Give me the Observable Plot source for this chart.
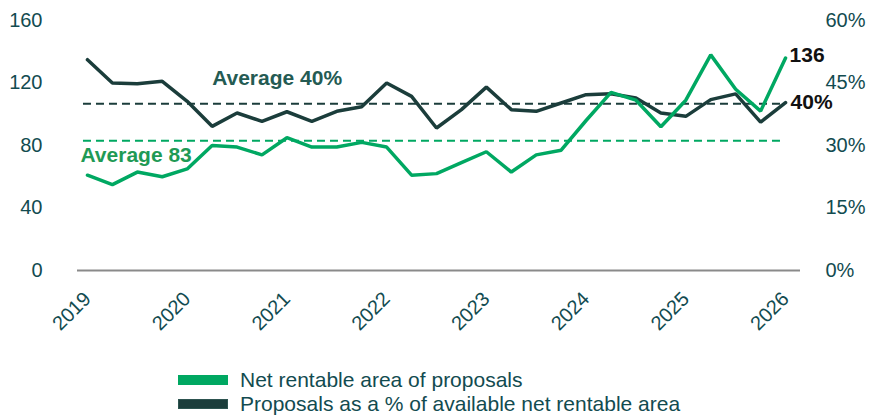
<!DOCTYPE html>
<html>
<head>
<meta charset="utf-8">
<script src="https://cdn.jsdelivr.net/npm/d3@7"></script>
<script src="https://cdn.jsdelivr.net/npm/@observablehq/plot@0.6"></script>
<style>
  html, body { margin: 0; padding: 0; background: #fff; }
  body { width: 871px; height: 416px; overflow: hidden; font-family: "Liberation Sans", Arial, sans-serif; }
  #legend { margin-top: 6px; padding-left: 178px; color: #124b50; font-size: 21px; }
  .row { display: flex; align-items: center; height: 24px; }
  .sw { width: 50px; height: 10px; margin-right: 12px; box-sizing: border-box; }
</style>
</head>
<body>
<div id="chart"></div>
<div id="legend"></div>
<script>
// ---- data (quarterly, 2019 Q1 .. 2026 Q1) ----
const startYear = 2019;
const seriesNames = ["Net rentable area of proposals", "Proposals as a % of available net rentable area"];
const areaValues = [61, 55, 63, 60, 65, 80, 79, 74, 85, 79, 79, 82, 79, 61, 62, 69, 76, 63, 74, 77, 96, 114, 109, 92, 109, 138, 116, 102, 136];
const sharePct   = [50.6, 45.0, 44.8, 45.4, 40.6, 34.6, 37.8, 35.8, 38.1, 35.8, 38.2, 39.3, 45.0, 41.8, 34.2, 38.6, 44.0, 38.6, 38.2, 40.2, 42.2, 42.4, 41.4, 37.8, 37.0, 41.0, 42.4, 35.6, 40.3];
const avgArea = 83;
const avgShare = 40;
const yearTicks = [2019, 2020, 2021, 2022, 2023, 2024, 2025, 2026];
const leftTicks = [0, 40, 80, 120, 160];
const rightTickLabels = ["0%", "15%", "30%", "45%", "60%"];
const endLabels = ["136", "40%"];

// ---- derived tables ----
const leftMax = 160, rightMax = 60;
const toLeft = p => p * leftMax / rightMax;
const areaData = areaValues.map((v, i) => ({t: startYear + i / 4, v}));
const shareData = sharePct.map((p, i) => ({t: startYear + i / 4, v: toLeft(p)}));
const lastArea = areaData[areaData.length - 1];
const lastShare = shareData[shareData.length - 1];

const GREEN = "#00a862", DARK = "#1b3d3b", AXIS = "#124b50";

const chart = Plot.plot({
  width: 871,
  height: 362,
  marginLeft: 77,
  marginRight: 71,
  marginTop: 20,
  marginBottom: 92,
  style: {fontFamily: "'Liberation Sans', Arial, sans-serif", fontSize: "20px", color: AXIS, background: "#fff"},
  x: {domain: [2018.9, 2026.15]},
  y: {domain: [0, leftMax]},
  marks: [
    Plot.axisY({ticks: leftTicks, tickSize: 0, tickPadding: 35, label: null, fill: AXIS}),
    Plot.axisY({anchor: "right", ticks: leftTicks, tickSize: 0, tickPadding: 25, label: null, fill: AXIS,
      tickFormat: (d) => rightTickLabels[leftTicks.indexOf(d)]}),
    Plot.axisX({ticks: yearTicks, tickFormat: d => String(d), tickRotate: -45, tickSize: 0, tickPadding: 25, label: null, fill: AXIS}),
    Plot.ruleY([0], {stroke: "#8a8a8a", strokeWidth: 2}),
    Plot.ruleY([avgShare], {y: d => toLeft(d), x1: startYear - 0.04, x2: yearTicks[yearTicks.length - 1], stroke: DARK, strokeWidth: 2, strokeDasharray: "8,5"}),
    Plot.ruleY([avgArea], {x1: startYear - 0.04, x2: yearTicks[yearTicks.length - 1] - 0.03, stroke: GREEN, strokeWidth: 2, strokeDasharray: "8,5"}),
    Plot.line(shareData, {x: "t", y: "v", stroke: DARK, strokeWidth: 3.5, strokeLinejoin: "miter"}),
    Plot.line(areaData, {x: "t", y: "v", stroke: GREEN, strokeWidth: 3.5, strokeLinejoin: "miter"}),
    Plot.text([avgShare], {x: 2020.25, y: d => toLeft(d), text: d => `Average ${d}%`, textAnchor: "start", dy: -26,
      fill: "#245b53", fontWeight: "bold", fontSize: 21}),
    Plot.text([avgArea], {x: startYear, y: d => d, text: d => `Average ${d}`, textAnchor: "start", dx: -7, dy: 14,
      fill: "#1f9a55", fontWeight: "bold", fontSize: 21}),
    Plot.text([lastArea], {x: "t", y: "v", text: () => endLabels[0], textAnchor: "start", dx: 4, dy: -3,
      fill: "#111", fontWeight: "bold", fontSize: 21}),
    Plot.text([lastShare], {x: "t", y: "v", text: () => endLabels[1], textAnchor: "start", dx: 5, dy: 0,
      fill: "#111", fontWeight: "bold", fontSize: 21})
  ]
});
document.getElementById("chart").appendChild(chart);

const legend = document.getElementById("legend");
[[seriesNames[0], GREEN, GREEN], [seriesNames[1], DARK, "#2d5450"]].forEach(([name, fill, border]) => {
  const row = document.createElement("div");
  row.className = "row";
  const sw = document.createElement("div");
  sw.className = "sw";
  sw.style.background = fill;
  sw.style.border = `1px solid ${border}`;
  const label = document.createElement("span");
  label.textContent = name;
  row.appendChild(sw);
  row.appendChild(label);
  legend.appendChild(row);
});
</script>
</body>
</html>
